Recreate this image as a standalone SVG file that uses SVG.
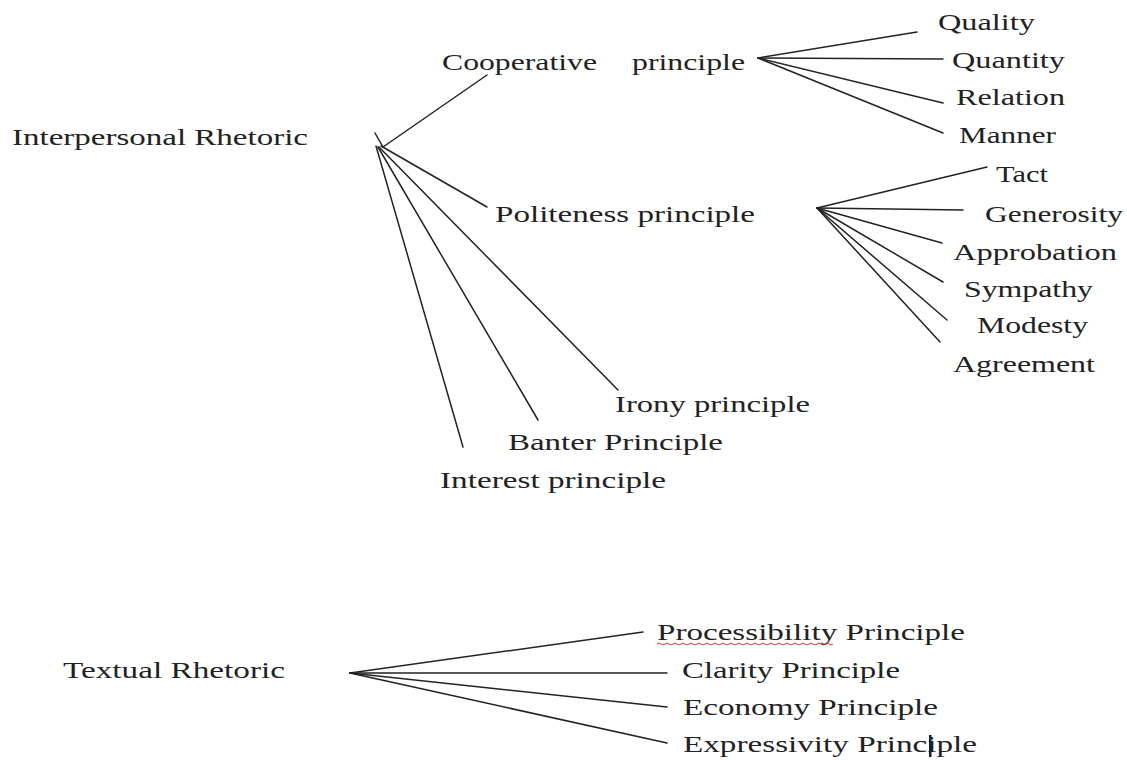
<svg xmlns="http://www.w3.org/2000/svg" width="1127" height="760" viewBox="0 0 1127 760">
<style>
.t{font-family:"Liberation Serif","Times New Roman",serif;font-size:23px;fill:#222}
.c line{stroke:#222;stroke-width:1.5;stroke-linecap:round}
</style>
<rect width="1127" height="760" fill="#fff"/>
<g class="c" id="connectors">
<line x1="375" y1="133" x2="383" y2="147"/>
<line x1="383" y1="147" x2="487" y2="75"/>
<line x1="381" y1="146" x2="487" y2="207"/>
<line x1="379" y1="147" x2="618" y2="390"/>
<line x1="378" y1="147" x2="538" y2="420"/>
<line x1="376" y1="146" x2="463" y2="447"/>
<line x1="758" y1="58" x2="917" y2="32"/>
<line x1="758" y1="58" x2="943" y2="59"/>
<line x1="758" y1="58" x2="943" y2="103"/>
<line x1="758" y1="58" x2="943" y2="133"/>
<line x1="817" y1="208" x2="987" y2="167"/>
<line x1="817" y1="208" x2="963" y2="210"/>
<line x1="817" y1="208" x2="942" y2="243"/>
<line x1="817" y1="208" x2="943" y2="282"/>
<line x1="817" y1="208" x2="947" y2="320"/>
<line x1="817" y1="208" x2="940" y2="342"/>
<line x1="350" y1="673" x2="643" y2="632"/>
<line x1="350" y1="673" x2="667" y2="673"/>
<line x1="350" y1="673" x2="667" y2="707"/>
<line x1="350" y1="673" x2="667" y2="743"/>
</g>
<g id="n-interpersonal"><text class="t" x="12" y="145" textLength="296" lengthAdjust="spacingAndGlyphs">Interpersonal Rhetoric</text></g>
<g id="n-cooperative"><text class="t" x="442" y="70" textLength="155" lengthAdjust="spacingAndGlyphs">Cooperative</text><text class="t" x="632" y="70" textLength="113" lengthAdjust="spacingAndGlyphs">principle</text></g>
<g id="n-quality"><text class="t" x="938" y="30" textLength="97" lengthAdjust="spacingAndGlyphs">Quality</text></g>
<g id="n-quantity"><text class="t" x="952" y="68" textLength="113" lengthAdjust="spacingAndGlyphs">Quantity</text></g>
<g id="n-relation"><text class="t" x="956" y="105" textLength="109" lengthAdjust="spacingAndGlyphs">Relation</text></g>
<g id="n-manner"><text class="t" x="959" y="143" textLength="97" lengthAdjust="spacingAndGlyphs">Manner</text></g>
<g id="n-politeness"><text class="t" x="495" y="222" textLength="260" lengthAdjust="spacingAndGlyphs">Politeness principle</text></g>
<g id="n-tact"><text class="t" x="996" y="182" textLength="52" lengthAdjust="spacingAndGlyphs">Tact</text></g>
<g id="n-generosity"><text class="t" x="985" y="222" textLength="138" lengthAdjust="spacingAndGlyphs">Generosity</text></g>
<g id="n-approbation"><text class="t" x="953" y="260" textLength="164" lengthAdjust="spacingAndGlyphs">Approbation</text></g>
<g id="n-sympathy"><text class="t" x="964" y="297" textLength="129" lengthAdjust="spacingAndGlyphs">Sympathy</text></g>
<g id="n-modesty"><text class="t" x="977" y="333" textLength="111" lengthAdjust="spacingAndGlyphs">Modesty</text></g>
<g id="n-agreement"><text class="t" x="953" y="372" textLength="142" lengthAdjust="spacingAndGlyphs">Agreement</text></g>
<g id="n-irony"><text class="t" x="615" y="412" textLength="195" lengthAdjust="spacingAndGlyphs">Irony principle</text></g>
<g id="n-banter"><text class="t" x="508" y="450" textLength="215" lengthAdjust="spacingAndGlyphs">Banter Principle</text></g>
<g id="n-interest"><text class="t" x="440" y="488" textLength="226" lengthAdjust="spacingAndGlyphs">Interest principle</text></g>
<g id="n-textual"><text class="t" x="63" y="678" textLength="222" lengthAdjust="spacingAndGlyphs">Textual Rhetoric</text></g>
<g id="n-processibility"><text class="t" x="657" y="640" textLength="308" lengthAdjust="spacingAndGlyphs">Processibility Principle</text>
<path d="M657 644 q2 -2 4 0 t4 0 t4 0 t4 0 t4 0 t4 0 t4 0 t4 0 t4 0 t4 0 t4 0 t4 0 t4 0 t4 0 t4 0 t4 0 t4 0 t4 0 t4 0 t4 0 t4 0 t4 0 t4 0 t4 0 t4 0 t4 0 t4 0 t4 0 t4 0 t4 0 t4 0 t4 0 t4 0 t4 0 t4 0 t4 0 t4 0 t4 0 t4 0 t4 0 t4 0 t4 0 t4 0 t4 0" fill="none" stroke="#d33" stroke-width="1"/></g>
<g id="n-clarity"><text class="t" x="682" y="678" textLength="218" lengthAdjust="spacingAndGlyphs">Clarity Principle</text></g>
<g id="n-economy"><text class="t" x="683" y="715" textLength="255" lengthAdjust="spacingAndGlyphs">Economy Principle</text></g>
<g id="n-expressivity"><text class="t" x="683" y="752" textLength="294" lengthAdjust="spacingAndGlyphs">Expressivity Principle</text>
<rect x="929" y="735" width="2.5" height="22" fill="#123"/></g>
</svg>
